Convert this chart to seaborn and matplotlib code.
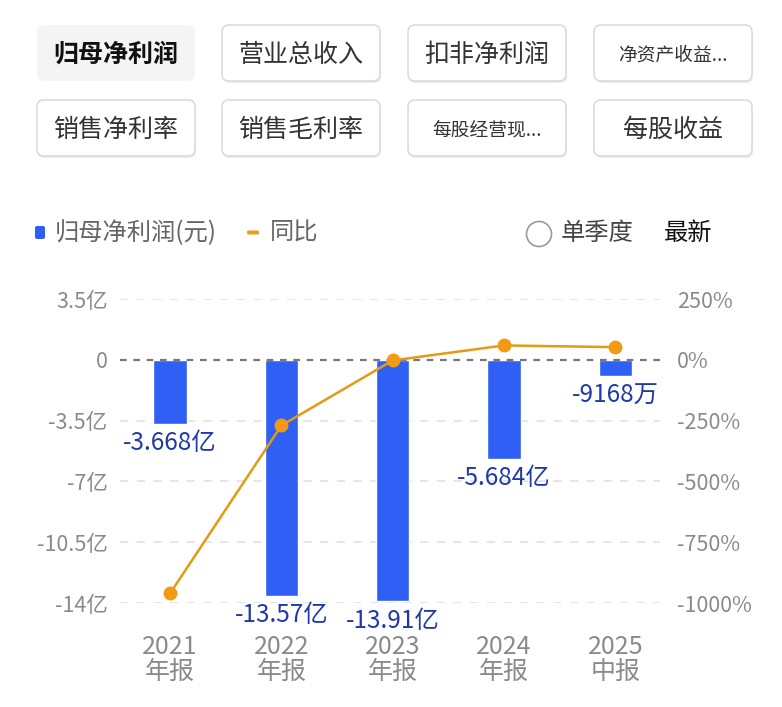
import numpy as np
import pandas as pd
import seaborn as sns
import matplotlib.pyplot as plt
from matplotlib.patches import FancyBboxPatch, Circle

# data (亿元 / %)
periods = ['2021\n年报', '2022\n年报', '2023\n年报', '2024\n年报', '2025\n中报']
profit = [-3.668, -13.57, -13.91, -5.684, -0.9168]
profit_labels = ['-3.668亿', '-13.57亿', '-13.91亿', '-5.684亿', '-9168万']
yoy = [-960, -270, -2.5, 59.1, 52]

left_ticks = [3.5, 0, -3.5, -7, -10.5, -14]
left_tick_labels = ['3.5亿', '0', '-3.5亿', '-7亿', '-10.5亿', '-14亿']
right_ticks = [250, 0, -250, -500, -750, -1000]
right_tick_labels = ['250%', '0%', '-250%', '-500%', '-750%', '-1000%']

tabs = [['归母净利润', '营业总收入', '扣非净利润', '净资产收益...'],
        ['销售净利率', '销售毛利率', '每股经营现...', '每股收益']]

sns.set_style('white')
plt.rcParams['font.family'] = ['Noto Sans CJK SC', 'DejaVu Sans']

W, H = 782, 707
BLUE = '#2f5ff5'
ORANGE = '#f29b12'
LABEL_BLUE = '#1f3aa8'
GRAY = '#8a8a8a'

fig = plt.figure(figsize=(W / 100, H / 100), dpi=100)

# overlay in pixel coords for the tab buttons and legend row
bg = fig.add_axes([0, 0, 1, 1], zorder=0)
bg.set_xlim(0, W)
bg.set_ylim(H, 0)
bg.axis('off')

tab_x = [37, 222, 408, 594]
tab_y = [25, 100]
tab_w, tab_h = 158, 56
for r, row in enumerate(tabs):
    for c, name in enumerate(row):
        x0, y0 = tab_x[c], tab_y[r]
        active = (r == 0 and c == 0)
        if not active:
            bg.add_patch(FancyBboxPatch((x0 + 1, y0 + 2), tab_w, tab_h,
                                        boxstyle='round,pad=0,rounding_size=7',
                                        fc='#ececec', ec='none'))
        bg.add_patch(FancyBboxPatch((x0, y0), tab_w, tab_h,
                                    boxstyle='round,pad=0,rounding_size=7',
                                    fc='#f4f4f4' if active else 'white',
                                    ec='none' if active else '#dcdcdc', lw=1.2))
        small = name.endswith('...')
        bg.text(x0 + tab_w / 2, y0 + tab_h / 2 + 2, name, ha='center', va='center',
                fontsize=13.5 if small else 18,
                color='#111111' if active else '#333333',
                fontweight='bold' if active else 'normal')

# legend row
bg.add_patch(FancyBboxPatch((35, 226), 10, 13, boxstyle='round,pad=0,rounding_size=2',
                            fc=BLUE, ec='none'))
bg.text(55, 233, '归母净利润(元)', ha='left', va='center', fontsize=17.5, color='#666666')
bg.add_patch(FancyBboxPatch((247, 230.5), 12, 4, boxstyle='round,pad=0,rounding_size=1.5',
                            fc=ORANGE, ec='none'))
bg.text(270, 233, '同比', ha='left', va='center', fontsize=17.5, color='#666666')
bg.add_patch(Circle((539, 234), 12.5, fc='white', ec='#9a9a9a', lw=1.2))
bg.text(561, 233, '单季度', ha='left', va='center', fontsize=17.5, color='#444444')
bg.text(664, 233, '最新', ha='left', va='center', fontsize=17.5, color='#111111')

# main chart axes
ax = fig.add_axes([120 / W, 1 - 603 / H, 540 / W, (603 - 299) / H], zorder=1)
ax.patch.set_alpha(0)

df = pd.DataFrame({'period': periods, 'profit': profit, 'label': profit_labels})
sns.barplot(data=df, x='period', y='profit', color=BLUE, saturation=1,
            width=0.3, ax=ax, zorder=2)

for i, (v, lab) in enumerate(zip(profit, profit_labels)):
    ax.annotate(lab, (i, v), xytext=(0, -5), textcoords='offset points',
                ha='center', va='top', fontsize=17.5, color=LABEL_BLUE, zorder=5)

ax.set_ylim(-14, 3.5)
ax.set_xlim(-0.45, 4.4)
ax.set_yticks(left_ticks)
ax.set_yticklabels(left_tick_labels)
for y in left_ticks:
    if y == 0:
        ax.axhline(0, color='#777777', lw=1.6, ls=(0, (3, 3)), zorder=3)
    else:
        ax.axhline(y, color='#e2e2e2', lw=1.2, ls=(0, (5, 5)), zorder=0)
ax.set_xlabel('')
ax.set_ylabel('')
ax.tick_params(axis='y', length=0, pad=9, labelsize=15.5, labelcolor=GRAY)
ax.tick_params(axis='x', length=0, pad=22, labelsize=18, labelcolor=GRAY)
for t in ax.get_xticklabels():
    t.set_linespacing(0.95)
sns.despine(ax=ax, left=True, bottom=True)

ax2 = ax.twinx()
sns.lineplot(x=list(range(len(yoy))), y=yoy, ax=ax2, color='#e49b14', lw=1.8,
             marker='o', markersize=10, markerfacecolor=ORANGE, markeredgewidth=0,
             clip_on=False, zorder=4)
ax2.set_ylim(-1000, 250)
ax2.set_xlim(-0.45, 4.4)
ax2.set_yticks(right_ticks)
ax2.set_yticklabels(right_tick_labels)
ax2.set_ylabel('')
ax2.tick_params(axis='y', length=0, pad=12, labelsize=15.5, labelcolor=GRAY)
for s in ax2.spines.values():
    s.set_visible(False)

fig.savefig('out.png', dpi=100, facecolor='white')
